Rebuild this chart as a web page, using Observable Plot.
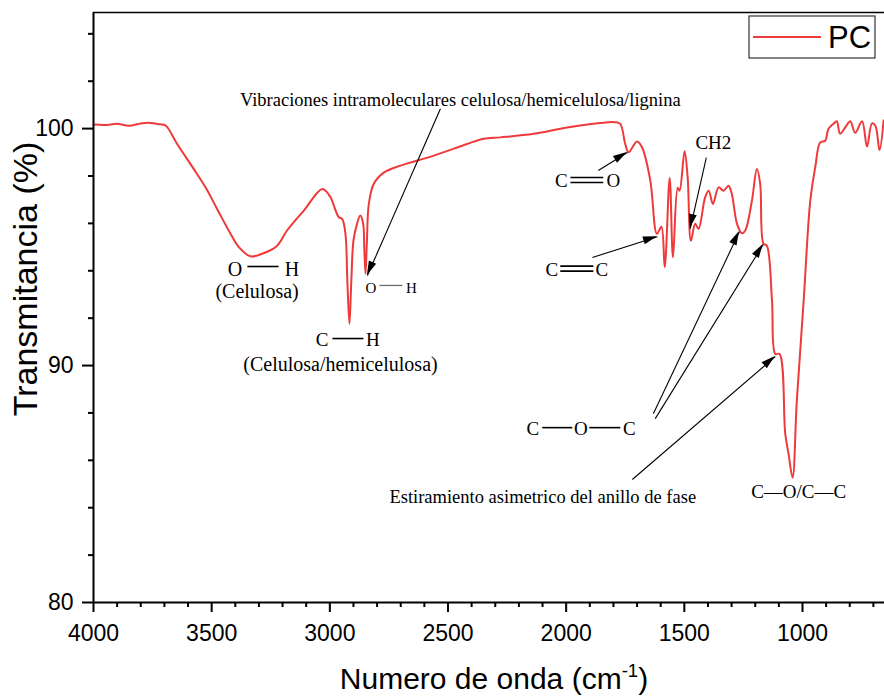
<!DOCTYPE html>
<html>
<head>
<meta charset="utf-8">
<script src="https://cdn.jsdelivr.net/npm/d3@7"></script>
<script src="https://cdn.jsdelivr.net/npm/@observablehq/plot@0.6"></script>
<style>
  html, body { margin: 0; padding: 0; background: #fff; }
  #chart svg { display: block; }
</style>
</head>
<body>
<div id="chart"></div>
<script>
// ---------------- DATA ----------------
// FTIR spectrum "PC" : wavenumber (cm-1) and transmittance (%)
const wavenumber = [4000,3950,3900,3850,3800,3759,3720,3695,3646,3576,3526,3477,3420,3385,3336,3281,3223,3181,3110,3031,2997,2983,2962,2948,2934,2926,2917,2909,2900,2885,2871,2859,2854,2849,2843,2835,2814,2772,2701,2560,2419,2349,2278,2137,1996,1855,1792,1771,1750,1736,1700,1679,1644,1616,1597,1583,1562,1548,1528,1520,1499,1486,1472,1454,1440,1412,1397,1379,1355,1334,1313,1299,1277,1256,1242,1214,1193,1179,1165,1151,1129,1115,1097,1073,1059,1042,1024,995,967,946,925,904,890,869,855,841,819,798,777,748,727,706,692,674,657];
const transmittance = [100.17,100.15,100.2,100.12,100.22,100.24,100.18,100.13,99.35,98.30,97.52,96.61,95.56,95.00,94.61,94.74,95.06,95.70,96.54,97.45,97.10,96.75,96.26,96.19,95.57,93.59,91.76,93.59,95.27,95.98,96.33,95.98,94.85,93.87,95.27,96.82,97.67,98.14,98.44,98.86,99.35,99.57,99.63,99.78,100.05,100.24,100.27,100.20,99.35,99.00,99.46,99.21,97.81,95.56,95.86,94.15,97.92,94.57,97.50,97.38,99.04,97.95,95.27,95.98,95.77,97.10,97.38,96.82,97.52,97.38,97.59,97.24,95.98,95.58,95.70,96.96,98.30,97.67,95.14,95.06,92.74,90.49,90.49,87.13,86.27,85.27,88.52,92.74,96.96,98.37,99.42,99.49,99.99,100.20,100.31,99.78,100.05,100.31,99.82,100.31,99.24,100.22,100.13,99.10,100.34];
const seriesName = "PC";

// axis domains and ticks
const xDomain = [4000, 653];
const yDomain = [80, 104.9];
const xMajorTicks = [4000, 3500, 3000, 2500, 2000, 1500, 1000];
const xMinorTicks = d3.range(700, 4000, 100).filter(d => d % 500 !== 0);
const yMajorTicks = [80, 90, 100];
const yMinorTicks = [82, 84, 86, 88, 92, 94, 96, 98, 102, 104];
const xTitle = ["Numero de onda (cm", "-1", ")"];
const yTitle = "Transmitancia (%)";

// annotation labels (anchor: centre x, baseline y in data units)
const labelsLarge = [
  {text: "O", wn: 3401, t: 93.80},
  {text: "H", wn: 3160, t: 93.80},
  {text: "(Celulosa)", wn: 3308, t: 92.87},
  {text: "(Celulosa/hemicelulosa)", wn: 2955, t: 89.79}
];
const labelsMedium = [
  {text: "C", wn: 3033, t: 90.84},
  {text: "H", wn: 2818, t: 90.84},
  {text: "C", wn: 2020, t: 97.55},
  {text: "O", wn: 1800, t: 97.55},
  {text: "C", wn: 2061, t: 93.80},
  {text: "C", wn: 1849, t: 93.80},
  {text: "CH2", wn: 1377, t: 99.16},
  {text: "C", wn: 2141, t: 87.05},
  {text: "O", wn: 1938, t: 87.05},
  {text: "C", wn: 1733, t: 87.05},
  {text: "C\u2014O/C\u2014C", wn: 1016, t: 84.43}
];
const labelsNotes = [
  {text: "Vibraciones intramoleculares celulosa/hemicelulosa/lignina", wn: 2448, t: 100.97},
  {text: "Estiramiento asimetrico del anillo de fase", wn: 2099, t: 84.18}
];
const labelsSmall = [
  {text: "O", wn: 2826, t: 93.08},
  {text: "H", wn: 2655, t: 93.08}
];
// chemical bonds drawn between atom labels
const singleBonds = [
  {x1: 3349, y1: 94.18, x2: 3217, y2: 94.18},
  {x1: 2989, y1: 91.14, x2: 2858, y2: 91.14},
  {x1: 2101, y1: 87.38, x2: 1974, y2: 87.38},
  {x1: 1902, y1: 87.38, x2: 1771, y2: 87.38}
];
const thinBonds = [
  {x1: 2790, y1: 93.38, x2: 2693, y2: 93.38}
];
const doubleBonds = [
  {x1: 1982, y1: 97.83, x2: 1843, y2: 97.83},
  {x1: 2025, y1: 94.09, x2: 1885, y2: 94.09}
];
// arrows from labels to bands (start -> tip)
const arrows = [
  {x1: 2532, y1: 100.84, x2: 2841, y2: 93.80},
  {x1: 1864, y1: 98.23, x2: 1741, y2: 98.99},
  {x1: 1407, y1: 98.78, x2: 1475, y2: 95.78},
  {x1: 1889, y1: 94.56, x2: 1614, y2: 95.44},
  {x1: 1631, y1: 87.97, x2: 1267, y2: 95.65},
  {x1: 1623, y1: 87.76, x2: 1166, y2: 95.11},
  {x1: 1720, y1: 85.19, x2: 1115, y2: 90.38}
];

// ---------------- STYLE ----------------
const lineColor = "#ee3a3a";
const sans = "'Liberation Sans', Arial, Helvetica, sans-serif";
const serif = "'Liberation Serif', 'Times New Roman', Times, serif";
const layout = {
  width: 884, height: 697,
  marginTop: 12, marginBottom: 95, marginLeft: 93, marginRight: 0,
  legend: {x: 749, y: 16, w: 126, h: 42, lineX1: 753, lineX2: 821, lineY: 37, textX: 828, textY: 48, fontSize: 31},
  xTitle: {x: 494, y: 689, fontSize: 30},
  yTitle: {x: 37, y: 279, fontSize: 34}
};

const spectrum = wavenumber.map((w, i) => ({wn: w, t: transmittance[i]}));

// ---------------- CUSTOM OVERLAY ----------------
const NS = "http://www.w3.org/2000/svg";
function el(tag, attrs, parent) {
  const e = document.createElementNS(NS, tag);
  for (const k in attrs) e.setAttribute(k, attrs[k]);
  if (parent) parent.appendChild(e);
  return e;
}
function overlay(index, scales) {
  const {x, y} = scales;
  const g = el("g", {});
  // filled arrow heads
  for (const a of arrows) {
    const x1 = x(a.x1), y1 = y(a.y1), x2 = x(a.x2), y2 = y(a.y2);
    const ang = Math.atan2(y2 - y1, x2 - x1);
    const L = 14, W = 4;
    const bx = x2 - L * Math.cos(ang), by = y2 - L * Math.sin(ang);
    const px = -Math.sin(ang) * W, py = Math.cos(ang) * W;
    el("polygon", {points: `${x2},${y2} ${bx + px},${by + py} ${bx - px},${by - py}`, fill: "#000"}, g);
  }
  // legend
  const L = layout.legend;
  el("rect", {x: L.x, y: L.y, width: L.w, height: L.h, fill: "#fff", stroke: "#333", "stroke-width": 1.2}, g);
  el("line", {x1: L.lineX1, x2: L.lineX2, y1: L.lineY, y2: L.lineY, stroke: lineColor, "stroke-width": 2}, g);
  const lt = el("text", {x: L.textX, y: L.textY, "text-anchor": "start", "font-family": sans, "font-size": L.fontSize, fill: "#000"}, g);
  lt.textContent = seriesName;
  // x title with superscript
  const X = layout.xTitle;
  const xt = el("text", {x: X.x, y: X.y, "text-anchor": "middle", "font-family": sans, "font-size": X.fontSize, fill: "#000"}, g);
  const s1 = el("tspan", {}, xt); s1.textContent = xTitle[0];
  const s2 = el("tspan", {dy: -12, "font-size": X.fontSize * 0.62}, xt); s2.textContent = xTitle[1];
  const s3 = el("tspan", {dy: 12}, xt); s3.textContent = xTitle[2];
  // y title
  const Y = layout.yTitle;
  const yt = el("text", {transform: `translate(${Y.x},${Y.y}) rotate(-90)`, "text-anchor": "middle", "font-family": sans, "font-size": Y.fontSize, fill: "#000"}, g);
  yt.textContent = yTitle;
  return g;
}

// ---------------- PLOT ----------------
const textOpts = (size) => ({x: "wn", y: "t", text: "text", lineAnchor: "bottom", textAnchor: "middle", fontFamily: serif, fontSize: size, fill: "#000"});

const chart = Plot.plot({
  width: layout.width, height: layout.height,
  marginTop: layout.marginTop, marginBottom: layout.marginBottom,
  marginLeft: layout.marginLeft, marginRight: layout.marginRight,
  style: {fontFamily: sans, background: "#fff", color: "#000", overflow: "visible"},
  x: {domain: xDomain},
  y: {domain: yDomain},
  marks: [
    Plot.line(spectrum, {x: "wn", y: "t", stroke: lineColor, strokeWidth: 2, curve: "catmull-rom"}),
    // frame lines
    Plot.ruleX([xDomain[0]], {stroke: "#000", strokeWidth: 2}),
    Plot.ruleY([yDomain[0]], {stroke: "#000", strokeWidth: 2}),
    Plot.ruleY([yDomain[1]], {stroke: "#000", strokeWidth: 1.6}),
    // axes
    Plot.axisX({ticks: xMajorTicks, tickSize: 10, tickPadding: 12, tickFormat: d => String(d), fontSize: 23, strokeWidth: 2, label: null}),
    Plot.axisX({ticks: xMinorTicks, tickSize: 5, text: null, strokeWidth: 2, label: null}),
    Plot.axisY({ticks: yMajorTicks, tickSize: 11, tickPadding: 9, tickFormat: d => String(d), fontSize: 23, strokeWidth: 2, label: null}),
    Plot.axisY({ticks: yMinorTicks, tickSize: 5, text: null, strokeWidth: 2, label: null}),
    // bonds
    Plot.link(singleBonds, {x1: "x1", y1: "y1", x2: "x2", y2: "y2", stroke: "#000", strokeWidth: 1.6}),
    Plot.link(thinBonds, {x1: "x1", y1: "y1", x2: "x2", y2: "y2", stroke: "#666", strokeWidth: 1.2}),
    Plot.link(doubleBonds, {x1: "x1", y1: "y1", x2: "x2", y2: "y2", stroke: "#000", strokeWidth: 1.6, dy: -2.5}),
    Plot.link(doubleBonds, {x1: "x1", y1: "y1", x2: "x2", y2: "y2", stroke: "#000", strokeWidth: 1.6, dy: 2.5}),
    // arrows shafts
    Plot.link(arrows, {x1: "x1", y1: "y1", x2: "x2", y2: "y2", stroke: "#000", strokeWidth: 1.1}),
    // labels
    Plot.text(labelsLarge, textOpts(20)),
    Plot.text(labelsMedium, textOpts(19)),
    Plot.text(labelsNotes, textOpts(18.5)),
    Plot.text(labelsSmall, textOpts(15)),
    overlay
  ]
});
document.getElementById("chart").appendChild(chart);
</script>
</body>
</html>
